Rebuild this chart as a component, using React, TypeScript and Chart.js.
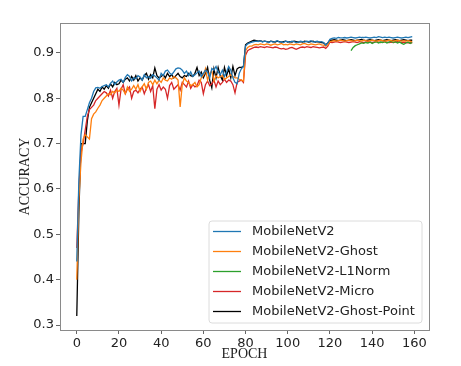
import React, { useEffect, useRef } from "react";
import { Chart, registerables } from "chart.js";

Chart.register(...registerables);

const seriesNames = [
  "MobileNetV2",
  "MobileNetV2-Ghost",
  "MobileNetV2-L1Norm",
  "MobileNetV2-Micro",
  "MobileNetV2-Ghost-Point",
];
const seriesColors = ["#1f77b4", "#ff7f0e", "#2ca02c", "#d62728", "#000000"];

const epochs: number[] = Array.from({ length: 160 }, (_, i) => i);
const xTicks = [0, 20, 40, 60, 80, 100, 120, 140, 160];
const yTicks = [0.3, 0.4, 0.5, 0.6, 0.7, 0.8, 0.9];

const mobileNetV2 = [
  0.44, 0.62, 0.72, 0.76, 0.76, 0.775, 0.79, 0.80, 0.815, 0.823,
  0.824, 0.822, 0.826, 0.828, 0.830, 0.825, 0.833, 0.838, 0.830, 0.836,
  0.840, 0.842, 0.835, 0.846, 0.852, 0.848, 0.838, 0.845, 0.843, 0.850,
  0.847, 0.840, 0.852, 0.845, 0.848, 0.844, 0.852, 0.849, 0.845, 0.840,
  0.855, 0.850, 0.860, 0.862, 0.856, 0.852, 0.858, 0.865, 0.867, 0.866,
  0.862, 0.855, 0.860, 0.850, 0.858, 0.848, 0.852, 0.856, 0.860, 0.848,
  0.855, 0.862, 0.858, 0.845, 0.866, 0.862, 0.870, 0.858, 0.852, 0.862,
  0.848, 0.858, 0.870, 0.862, 0.845, 0.835, 0.832, 0.855, 0.865, 0.870,
  0.915, 0.920, 0.922, 0.924, 0.925, 0.926, 0.925, 0.927, 0.924, 0.926,
  0.925, 0.923, 0.926, 0.924, 0.925, 0.927, 0.924, 0.925, 0.923, 0.926,
  0.925, 0.924, 0.926, 0.925, 0.923, 0.924, 0.926, 0.925, 0.924, 0.926,
  0.925, 0.927, 0.924, 0.925, 0.926, 0.924, 0.925, 0.923, 0.917, 0.922,
  0.930, 0.932, 0.933, 0.932, 0.934, 0.933, 0.933, 0.934, 0.933, 0.934,
  0.935, 0.934, 0.933, 0.934, 0.935, 0.934, 0.934, 0.935, 0.934, 0.933,
  0.934, 0.935, 0.934, 0.936, 0.935, 0.934, 0.935, 0.934, 0.935, 0.934,
  0.933, 0.934, 0.935, 0.934, 0.933, 0.934, 0.935, 0.934, 0.935, 0.936,
];

const mobileNetV2Ghost = [
  0.40, 0.58, 0.66, 0.71, 0.72, 0.715, 0.71, 0.755, 0.765, 0.77,
  0.778, 0.785, 0.795, 0.80, 0.805, 0.81, 0.808, 0.815, 0.812, 0.818,
  0.815, 0.822, 0.818, 0.81, 0.825, 0.815, 0.82, 0.828, 0.82, 0.83,
  0.815, 0.825, 0.832, 0.82, 0.835, 0.838, 0.83, 0.84, 0.832, 0.84,
  0.835, 0.845, 0.84, 0.838, 0.845, 0.842, 0.848, 0.845, 0.84, 0.781,
  0.83, 0.845, 0.838, 0.835, 0.828, 0.83, 0.835, 0.825, 0.83, 0.845,
  0.85, 0.865, 0.84, 0.855, 0.86, 0.838, 0.85, 0.845, 0.848, 0.85,
  0.842, 0.845, 0.848, 0.852, 0.848, 0.845, 0.845, 0.842, 0.84, 0.838,
  0.905, 0.912, 0.915, 0.915, 0.918, 0.919, 0.918, 0.920, 0.919, 0.918,
  0.920, 0.919, 0.917, 0.919, 0.920, 0.918, 0.919, 0.921, 0.918, 0.919,
  0.918, 0.920, 0.919, 0.918, 0.920, 0.919, 0.918, 0.920, 0.921, 0.919,
  0.918, 0.920, 0.919, 0.918, 0.919, 0.920, 0.918, 0.917, 0.915, 0.918,
  0.925, 0.926, 0.927, 0.926, 0.927, 0.928, 0.927, 0.926, 0.927, 0.928,
  0.927, 0.926, 0.927, 0.928, 0.927, 0.926, 0.928, 0.927, 0.926, 0.927,
  0.928, 0.927, 0.926, 0.927, 0.928, 0.927, 0.926, 0.927, 0.928, 0.927,
  0.926, 0.927, 0.928, 0.927, 0.926, 0.927, 0.926, 0.927, 0.926, 0.925,
];

const mobileNetV2L1Norm: (number | null)[] = [
  null, null, null, null, null, null, null, null, null, null,
  null, null, null, null, null, null, null, null, null, null,
  null, null, null, null, null, null, null, null, null, null,
  null, null, null, null, null, null, null, null, null, null,
  null, null, null, null, null, null, null, null, null, null,
  null, null, null, null, null, null, null, null, null, null,
  null, null, null, null, null, null, null, null, null, null,
  null, null, null, null, null, null, null, null, null, null,
  null, null, null, null, null, null, null, null, null, null,
  null, null, null, null, null, null, null, null, null, null,
  null, null, null, null, null, null, null, null, null, null,
  null, null, null, null, null, null, null, null, null, null,
  null, null, null, null, null, null, null, null, null, null,
  0.905, 0.912, 0.916, 0.918, 0.920, 0.922, 0.921, 0.923, 0.922, 0.924,
  0.921, 0.923, 0.925, 0.922, 0.924, 0.923, 0.925, 0.922, 0.924, 0.926,
  0.923, 0.925, 0.922, 0.924, 0.921, 0.919, 0.922, 0.924, 0.921, 0.923,
];

const mobileNetV2Micro = [
  0.47, 0.60, 0.68, 0.70, 0.73, 0.76, 0.775, 0.78, 0.785, 0.795,
  0.80, 0.805, 0.81, 0.815, 0.812, 0.805, 0.818, 0.80, 0.815, 0.822,
  0.785, 0.82, 0.83, 0.81, 0.82, 0.825, 0.80, 0.815, 0.818, 0.812,
  0.82, 0.825, 0.81, 0.822, 0.83, 0.815, 0.828, 0.777, 0.82, 0.83,
  0.818, 0.825, 0.82, 0.80, 0.828, 0.835, 0.82, 0.825, 0.83, 0.818,
  0.835, 0.83, 0.825, 0.838, 0.822, 0.83, 0.825, 0.828, 0.84, 0.835,
  0.81, 0.83, 0.838, 0.828, 0.832, 0.84, 0.825, 0.838, 0.83, 0.835,
  0.842, 0.835, 0.84, 0.838, 0.83, 0.812, 0.835, 0.838, 0.84, 0.835,
  0.895, 0.905, 0.908, 0.910, 0.912, 0.913, 0.912, 0.914, 0.913, 0.912,
  0.914, 0.913, 0.912, 0.911, 0.913, 0.912, 0.910, 0.909, 0.910, 0.908,
  0.909, 0.911, 0.912, 0.910, 0.908, 0.910, 0.912, 0.913, 0.912, 0.914,
  0.913, 0.912, 0.914, 0.913, 0.912, 0.911, 0.912, 0.913, 0.910, 0.915,
  0.924, 0.923, 0.924, 0.925, 0.924, 0.923, 0.924, 0.925, 0.924, 0.923,
  0.924, 0.925, 0.924, 0.923, 0.925, 0.924, 0.923, 0.924, 0.925, 0.924,
  0.923, 0.924, 0.925, 0.924, 0.923, 0.924, 0.925, 0.924, 0.923, 0.924,
  0.923, 0.924, 0.925, 0.924, 0.923, 0.924, 0.923, 0.922, 0.923, 0.922,
];

const mobileNetV2GhostPoint = [
  0.32, 0.55, 0.70, 0.70, 0.70, 0.75, 0.78, 0.79, 0.80, 0.81,
  0.82, 0.815, 0.825, 0.82, 0.828, 0.822, 0.832, 0.825, 0.835, 0.83,
  0.832, 0.84, 0.835, 0.842, 0.845, 0.838, 0.848, 0.84, 0.85, 0.838,
  0.845, 0.84, 0.85, 0.855, 0.842, 0.852, 0.845, 0.867, 0.85, 0.845,
  0.848, 0.852, 0.845, 0.855, 0.848, 0.852, 0.845, 0.85, 0.855, 0.848,
  0.845, 0.85, 0.848, 0.855, 0.85, 0.848, 0.855, 0.868, 0.85, 0.858,
  0.845, 0.855, 0.868, 0.84, 0.823, 0.865, 0.845, 0.868, 0.85, 0.84,
  0.868, 0.85, 0.865, 0.845, 0.87, 0.85, 0.865, 0.868, 0.868, 0.87,
  0.918, 0.922, 0.924, 0.926, 0.928, 0.927, 0.926, 0.927, 0.925, 0.926,
  0.925, 0.924, 0.926, 0.925, 0.924, 0.926, 0.925, 0.924, 0.925, 0.926,
  0.924, 0.925, 0.924, 0.926, 0.925, 0.924, 0.925, 0.924, 0.926, 0.925,
  0.924, 0.925, 0.926, 0.924, 0.925, 0.924, 0.923, 0.922, 0.918, 0.922,
  0.928, 0.928, 0.929, 0.928, 0.927, 0.928, 0.929, 0.928, 0.927, 0.928,
  0.929, 0.928, 0.927, 0.928, 0.929, 0.930, 0.928, 0.927, 0.928, 0.929,
  0.928, 0.927, 0.928, 0.929, 0.928, 0.927, 0.928, 0.929, 0.928, 0.927,
  0.928, 0.929, 0.928, 0.927, 0.928, 0.929, 0.928, 0.927, 0.928, 0.928,
];

const seriesValues: (number | null)[][] = [
  mobileNetV2,
  mobileNetV2Ghost,
  mobileNetV2L1Norm,
  mobileNetV2Micro,
  mobileNetV2GhostPoint,
];

const framePlugin = {
  id: "frameAndLegend",
  afterDraw(chart: any) {
    const { ctx, chartArea } = chart;
    ctx.save();
    // axes frame
    ctx.strokeStyle = "#8a8a8a";
    ctx.lineWidth = 1;
    ctx.strokeRect(
      Math.round(chartArea.left) + 0.5,
      Math.round(chartArea.top) + 0.5,
      Math.round(chartArea.right - chartArea.left),
      Math.round(chartArea.bottom - chartArea.top)
    );
    // legend
    const boxW = 213;
    const rowH = 20;
    const boxH = 102;
    const right = chartArea.right - 7;
    const bottom = chartArea.bottom - 7;
    const left = right - boxW;
    const top = bottom - boxH;
    ctx.beginPath();
    const r = 3;
    ctx.moveTo(left + r, top);
    ctx.lineTo(right - r, top);
    ctx.quadraticCurveTo(right, top, right, top + r);
    ctx.lineTo(right, bottom - r);
    ctx.quadraticCurveTo(right, bottom, right - r, bottom);
    ctx.lineTo(left + r, bottom);
    ctx.quadraticCurveTo(left, bottom, left, bottom - r);
    ctx.lineTo(left, top + r);
    ctx.quadraticCurveTo(left, top, left + r, top);
    ctx.closePath();
    ctx.fillStyle = "rgba(255,255,255,0.85)";
    ctx.fill();
    ctx.strokeStyle = "#dcdcdc";
    ctx.stroke();
    ctx.font = "13px 'DejaVu Sans'";
    ctx.textBaseline = "middle";
    ctx.textAlign = "left";
    chart.data.datasets.forEach((ds: any, i: number) => {
      const y = top + 10.5 + i * rowH;
      ctx.strokeStyle = ds.borderColor;
      ctx.lineWidth = 1.3;
      ctx.beginPath();
      ctx.moveTo(left + 4, y);
      ctx.lineTo(left + 32, y);
      ctx.stroke();
      ctx.fillStyle = "#222";
      ctx.fillText(ds.label, left + 43, y);
    });
    ctx.restore();
  },
};

export default function App() {
  const canvasRef = useRef<HTMLCanvasElement | null>(null);

  useEffect(() => {
    const canvas = canvasRef.current;
    if (!canvas) return;
    const datasets = seriesNames.map((name, i) => ({
      label: name,
      data: epochs
        .map((e) => ({ x: e, y: seriesValues[i][e] }))
        .filter((p) => p.y !== null && p.y !== undefined),
      borderColor: seriesColors[i],
      backgroundColor: seriesColors[i],
      borderWidth: 1.3,
      pointRadius: 0,
      tension: 0,
    }));
    const chart = new Chart(canvas, {
      type: "line",
      data: { datasets },
      options: {
        animation: false,
        responsive: false,
        layout: { padding: { left: 0, top: 23, right: 32, bottom: 0 } },
        plugins: { legend: { display: false }, tooltip: { enabled: false } },
        scales: {
          x: {
            type: "linear",
            min: -7.95,
            max: 166.95,
            afterBuildTicks: (scale: any) => {
              scale.ticks = xTicks.map((v) => ({ value: v }));
            },
            afterFit: (scale: any) => {
              scale.height = 36;
            },
            ticks: {
              includeBounds: false,
              autoSkip: false,
              maxRotation: 0,
              padding: 2,
              color: "#222",
              font: { family: "'DejaVu Sans'", size: 13 },
              callback: (v: any) => String(v),
            },
            grid: {
              drawOnChartArea: false,
              drawTicks: true,
              tickLength: 4,
              tickColor: "#666",
            },
            border: { display: false },
            title: {
              display: true,
              text: "EPOCH",
              color: "#222",
              font: { family: "'Liberation Serif'", size: 14 },
              padding: { top: 0, bottom: 3.6 },
            },
          },
          y: {
            type: "linear",
            min: 0.289,
            max: 0.966,
            afterBuildTicks: (scale: any) => {
              scale.ticks = yTicks.map((v) => ({ value: v }));
            },
            afterFit: (scale: any) => {
              scale.width = 60;
            },
            ticks: {
              includeBounds: false,
              autoSkip: false,
              padding: 2,
              color: "#222",
              font: { family: "'DejaVu Sans'", size: 13 },
              callback: (v: any) => Number(v).toFixed(1),
            },
            grid: {
              drawOnChartArea: false,
              drawTicks: true,
              tickLength: 4,
              tickColor: "#666",
            },
            border: { display: false },
            title: {
              display: true,
              text: "ACCURACY",
              color: "#222",
              font: { family: "'Liberation Serif'", size: 14 },
              padding: { top: 16.6, bottom: 0 },
            },
          },
        },
      },
      plugins: [framePlugin],
    });
    return () => chart.destroy();
  }, []);

  return (
    <div style={{ position: "fixed", left: 0, top: 0, width: 461, height: 366, background: "#fff" }}>
      <canvas ref={canvasRef} width={461} height={366} style={{ width: 461, height: 366 }} />
    </div>
  );
}
